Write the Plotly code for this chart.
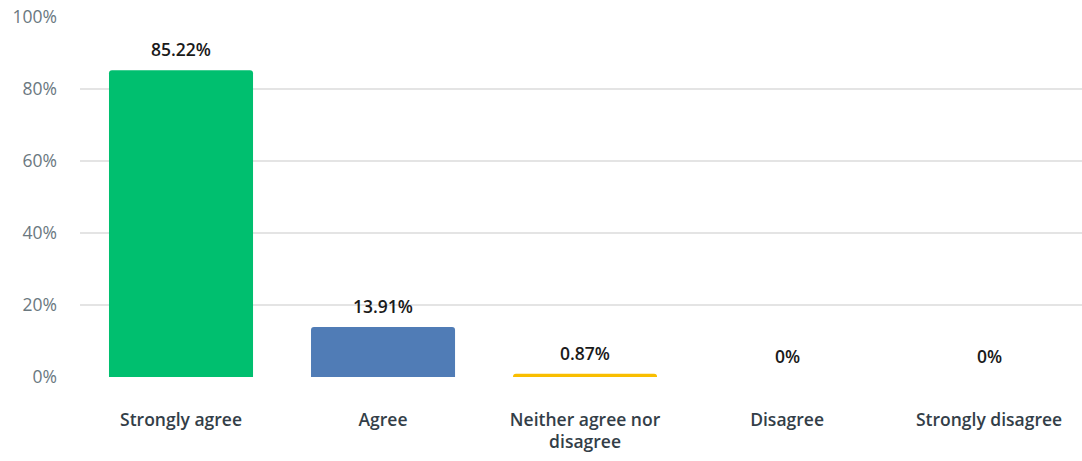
import plotly.graph_objects as go

categories = ["Strongly agree", "Agree", "Neither agree nor<br>disagree", "Disagree", "Strongly disagree"]
values = [85.22, 13.91, 0.87, 0, 0]
colors = ["#00BF6F", "#507CB6", "#F9BE00", "#D25F90", "#6BC8CD"]
y_ticks = [0, 20, 40, 60, 80, 100]

xs = list(range(len(categories)))

fig = go.Figure()
fig.add_trace(go.Bar(
    x=xs, y=values, width=0.713,
    marker=dict(color=colors, cornerradius=3, line=dict(width=0)),
    hoverinfo="skip",
))

for x, v in zip(xs, values):
    fig.add_annotation(
        x=x, y=v, xref="x", yref="y", text=f"{v:g}%",
        showarrow=False, yanchor="bottom", yshift=7,
        font=dict(family="Open Sans", size=17.5, color="#1a1a1a", weight=600),
    )

fig.update_layout(
    width=1082, height=461,
    margin=dict(l=80, r=0, t=17, b=84),
    paper_bgcolor="white", plot_bgcolor="white",
    showlegend=False,
    bargap=0.3,
)
fig.update_xaxes(
    range=[-0.5, 4.46], tickmode="array", tickvals=xs, ticktext=categories,
    showgrid=False, zeroline=False, showline=False, ticks="",
    tickfont=dict(family="Open Sans", size=17.5, color="#333E48", weight=600),
    ticklabelstandoff=30,
)
fig.update_yaxes(
    range=[0, 100], tickmode="array", tickvals=y_ticks,
    ticktext=[f"{t}%" for t in y_ticks],
    showgrid=True, gridcolor="#E4E4E4", gridwidth=1.5,
    zeroline=False, showline=False, ticks="",
    tickfont=dict(family="Open Sans", size=17.5, color="#6B787F", weight=500),
    ticklabelstandoff=22,
)

fig.write_html("out.html")
